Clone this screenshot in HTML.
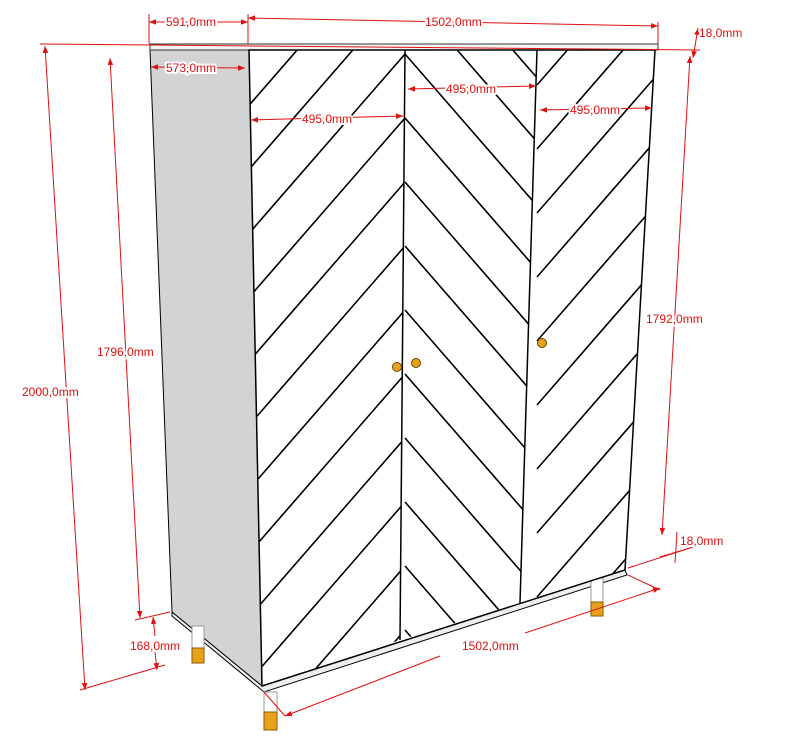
<!DOCTYPE html>
<html><head><meta charset="utf-8"><style>
html,body{margin:0;padding:0;background:#fff;width:808px;height:744px;overflow:hidden;}
svg{display:block;}
text{font-family:"Liberation Sans",sans-serif;font-size:12px;fill:#e01010;stroke:#fff;stroke-width:4px;paint-order:stroke;stroke-linejoin:round;}
</style></head><body>
<svg id="s" width="808" height="744" viewBox="0 0 808 744" xmlns="http://www.w3.org/2000/svg">
<defs>
<clipPath id="cl"><polygon points="249,50 405,50 400,640 262,686"/></clipPath>
<clipPath id="cm"><polygon points="405,50 537,50 520,603 400,640"/></clipPath>
<clipPath id="cr"><polygon points="537,50 655,50 625,570 520,603"/></clipPath>
<marker id="a" viewBox="0 0 10 10" refX="10" refY="5" markerWidth="7" markerHeight="7" orient="auto-start-reverse"><path d="M0,1 L10,5 L0,9 z" fill="#e01010"/></marker>
</defs>
<polygon points="150,50 249,50 262,686 172,612" fill="#d3d3d3" stroke="#000" stroke-width="1"/>
<polygon points="150,44 658,44 658,50 150,50" fill="#f4f4f4" stroke="#333" stroke-width="1"/>
<polygon points="172,612 262,686 625,570 627,575 264,692 172,616" fill="#eee" stroke="#000" stroke-width="1"/>
<rect x="192" y="626" width="12" height="26" fill="#fff" stroke="#999"/>
<rect x="192" y="648" width="12" height="15" fill="#e8a21a" stroke="#8a5a00"/>
<rect x="264" y="692" width="13" height="24" fill="#fff" stroke="#999"/>
<rect x="264" y="712" width="13" height="18" fill="#e8a21a" stroke="#8a5a00"/>
<rect x="591" y="578" width="12" height="25" fill="#fff" stroke="#999"/>
<rect x="591" y="602" width="12" height="14" fill="#e8a21a" stroke="#8a5a00"/>
<polygon points="249,50 655,50 625,570 262,686" fill="#fff" stroke="#000" stroke-width="1.5"/>
<g id="hl" clip-path="url(#cl)" stroke="#000" stroke-width="1.6"></g>
<g id="hm" clip-path="url(#cm)" stroke="#000" stroke-width="1.6"></g>
<g id="hr" clip-path="url(#cr)" stroke="#000" stroke-width="1.6"></g>
<line x1="405" y1="50" x2="400" y2="640" stroke="#000" stroke-width="1.5"/>
<line x1="537" y1="50" x2="520" y2="603" stroke="#000" stroke-width="1.5"/>
<circle cx="397" cy="367" r="4.5" fill="#e8a21a" stroke="#6a4500"/>
<circle cx="416" cy="363" r="4.5" fill="#e8a21a" stroke="#6a4500"/>
<circle cx="542" cy="343" r="4.5" fill="#e8a21a" stroke="#6a4500"/>
<g stroke="#e01010" stroke-width="1" fill="none">
<line x1="40" y1="44" x2="700" y2="50"/>
<line x1="149" y1="14" x2="149" y2="44"/><line x1="248" y1="14" x2="248" y2="44"/><line x1="658" y1="22" x2="658" y2="44"/>
<line x1="149" y1="22" x2="248" y2="22" marker-start="url(#a)" marker-end="url(#a)"/>
<line x1="248" y1="18" x2="658" y2="26" marker-start="url(#a)" marker-end="url(#a)"/>
<line x1="698" y1="28" x2="693" y2="58" marker-start="url(#a)" marker-end="url(#a)"/>
<line x1="151" y1="67" x2="245" y2="68" marker-start="url(#a)" marker-end="url(#a)"/>
<line x1="251" y1="120" x2="403" y2="116" marker-start="url(#a)" marker-end="url(#a)"/>
<line x1="408" y1="89" x2="536" y2="86" marker-start="url(#a)" marker-end="url(#a)"/>
<line x1="540" y1="110" x2="652" y2="108" marker-start="url(#a)" marker-end="url(#a)"/>
<line x1="45" y1="46" x2="85" y2="690" marker-start="url(#a)" marker-end="url(#a)"/>
<line x1="110" y1="58" x2="140" y2="618" marker-start="url(#a)" marker-end="url(#a)"/>
<line x1="690" y1="56" x2="662" y2="535" marker-start="url(#a)" marker-end="url(#a)"/>
<line x1="80" y1="690" x2="165" y2="665"/>
<line x1="135" y1="620" x2="170" y2="612"/>
<line x1="153" y1="617" x2="155" y2="636" marker-start="url(#a)"/>
<line x1="155" y1="652" x2="157" y2="670" marker-end="url(#a)"/>
<line x1="660" y1="557" x2="700" y2="545"/>
<line x1="628" y1="568" x2="690" y2="548"/>
<line x1="677" y1="532" x2="675" y2="563"/>
<line x1="285" y1="716" x2="440" y2="656" marker-start="url(#a)"/>
<line x1="525" y1="633" x2="660" y2="588" marker-end="url(#a)"/>
<line x1="264" y1="692" x2="285" y2="716"/>
<line x1="628" y1="575" x2="660" y2="590"/>
</g>
<g>
<text x="166" y="26">591,0mm</text>
<text x="425" y="26">1502,0mm</text>
<text x="699" y="37">18,0mm</text>
<text x="166" y="72">573,0mm</text>
<text x="302" y="123">495,0mm</text>
<text x="446" y="93">495,0mm</text>
<text x="570" y="114">495,0mm</text>
<text x="22" y="396">2000,0mm</text>
<text x="97" y="356">1796,0mm</text>
<text x="646" y="323">1792,0mm</text>
<text x="130" y="650">168,0mm</text>
<text x="680" y="545">18,0mm</text>
<text x="462" y="650">1502,0mm</text>
</g>
</svg>
<script>
var ns="http://www.w3.org/2000/svg";
function L(g,x1,y1,x2,y2){var l=document.createElementNS(ns,"line");l.setAttribute("x1",x1);l.setAttribute("y1",y1);l.setAttribute("x2",x2);l.setAttribute("y2",y2);document.getElementById(g).appendChild(l);}
var s=1.15;
for(var k=-4;k<12;k++){
 var c=118+64*k;
 L("hl",405,c,240,c+s*165);
 L("hm",405,c,545,c+s*140);
 var d=85+64*k;
 L("hr",537,d,670,d-s*133);
}
</script>
</body></html>
